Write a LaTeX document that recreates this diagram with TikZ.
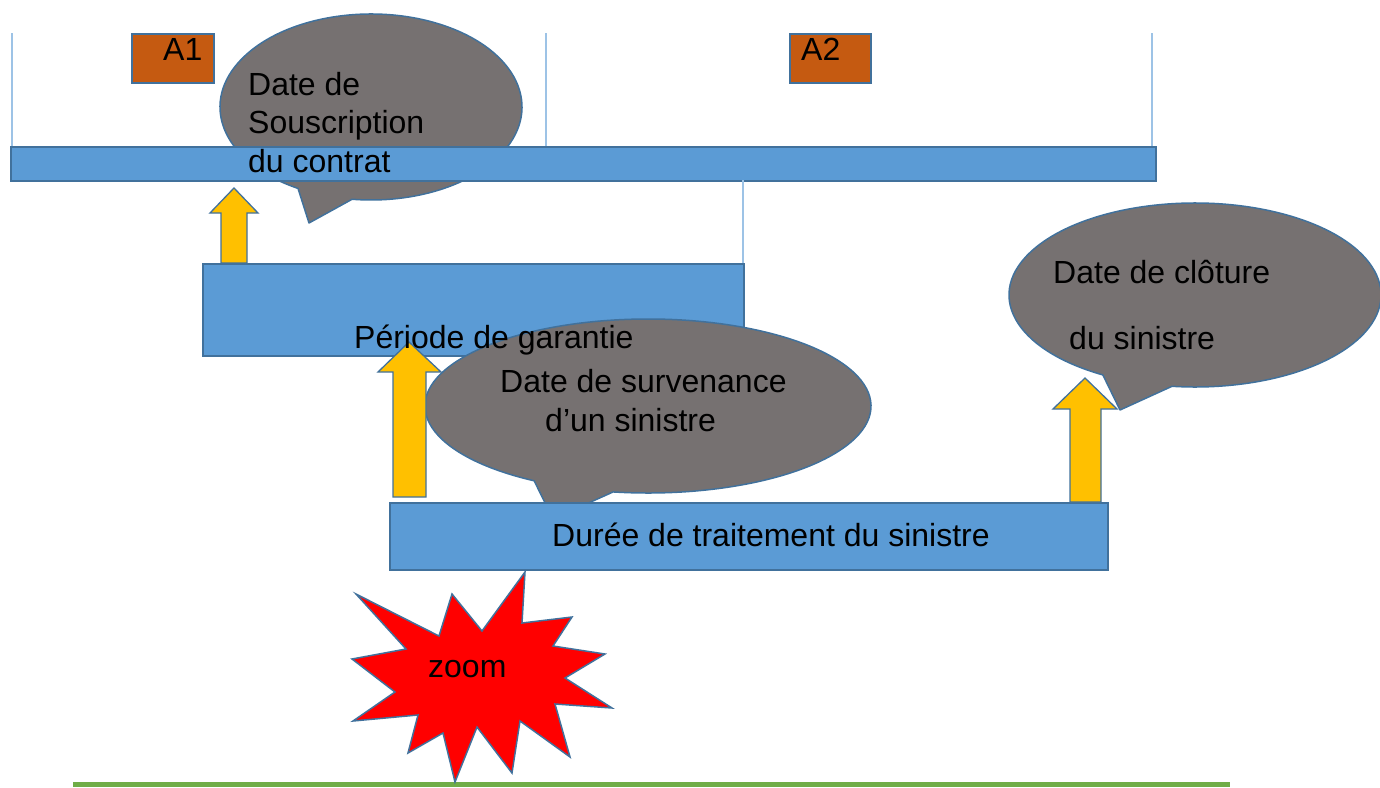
\documentclass[tikz,border=0pt]{standalone}
\usepackage{fontspec}
\setmainfont{Liberation Sans}
\definecolor{barblue}{HTML}{5B9BD5}
\definecolor{edgeblue}{HTML}{41719C}
\definecolor{thinblue}{HTML}{9DC3E6}
\definecolor{calloutgray}{HTML}{767171}
\definecolor{arrowyellow}{HTML}{FFC000}
\definecolor{yearbrown}{HTML}{C55A11}
\definecolor{linegreen}{HTML}{70AD47}
\begin{document}
\begin{tikzpicture}[x=1pt,y=-1pt,
  bar/.style={draw=edgeblue, fill=barblue, line width=1.5pt, rectangle, inner sep=0pt, anchor=north west},
  yearbox/.style={draw=edgeblue, fill=yearbrown, line width=1.5pt, rectangle, inner sep=0pt, anchor=north west},
  callout/.style={draw=edgeblue, fill=calloutgray, line width=1.5pt, line join=round},
  blockarrow/.style={draw=edgeblue, fill=arrowyellow, line width=1.3pt, line join=miter},
  tick/.style={draw=thinblue, line width=1.3pt},
  txt/.style={anchor=base west, inner sep=0pt, font=\fontsize{32}{38}\selectfont, text=black},
  starburst/.style={draw=edgeblue, fill=red, line width=1.5pt, line join=miter}]
\useasboundingbox (0,0) rectangle (1380,787);
\clip (0,0) rectangle (1380,787);
% thin year ticks
\coordinate (t1a) at (12,33);   \coordinate (t1b) at (12,146);
\coordinate (t2a) at (546,33);  \coordinate (t2b) at (546,146);
\coordinate (t3a) at (1152,33); \coordinate (t3b) at (1152,146);
\draw[tick] (t1a) -- (t1b);
\draw[tick] (t2a) -- (t2b);
\draw[tick] (t3a) -- (t3b);
% year boxes
\node[yearbox, minimum width=82pt, minimum height=49pt] (A1) at (131,33) {};
\node[txt] (A1t) at (163,60) {A1};
\node[yearbox, minimum width=81pt, minimum height=49pt] (A2) at (789,33) {};
\node[txt] (A2t) at (801,60) {A2};
% callout: date de souscription
\coordinate (c1) at (371,107);
\coordinate (c1tip) at (309,223);
\draw[callout] (c1) ++(118.9:151 and 93) arc[start angle=118.9, end angle=457.2, x radius=151, y radius=93] -- (c1tip) -- cycle;
% top time bar
\node[bar, minimum width=1145pt, minimum height=34pt] (top) at (10,146) {};
\node[txt] (s1) at (248,95) {Date de};
\node[txt] (s2) at (248,133) {Souscription};
\node[txt] (s3) at (248,172) {du contrat};
% tick under bar
\coordinate (t4a) at (743,180); \coordinate (t4b) at (743,263);
\draw[tick] (t4a) -- (t4b);
% arrow 1
\draw[blockarrow] (221,263) -- (221,213) -- (210,213) -- (234,188) -- (258,213) -- (247,213) -- (247,263) -- cycle;
% garantie box
\node[bar, minimum width=541pt, minimum height=92pt] (gar) at (202,263) {};
% callout: survenance
\coordinate (c2) at (648,406);
\coordinate (c2tip) at (553,519);
\draw[callout] (c2) ++(120.7:223 and 87) arc[start angle=120.7, end angle=459, x radius=223, y radius=87] -- (c2tip) -- cycle;
\node[txt] (v1) at (500,392) {Date de survenance};
\node[txt] (v2) at (545,431) {d’un sinistre};
% arrow 2
\draw[blockarrow] (393,497) -- (393,372) -- (378,372) -- (409,342) -- (441,372) -- (426,372) -- (426,497) -- cycle;
\node[txt] (gart) at (354,348) {Période de garantie};
% traitement box
\node[bar, minimum width=718pt, minimum height=67pt] (dur) at (389,502) {};
\node[txt] (durt) at (552,546) {Durée de traitement du sinistre};
% callout: cloture
\coordinate (c3) at (1195,295);
\coordinate (c3tip) at (1120,410);
\draw[callout] (c3) ++(119.7:186 and 92) arc[start angle=119.7, end angle=457.1, x radius=186, y radius=92] -- (c3tip) -- cycle;
\node[txt] (k1) at (1053,283) {Date de clôture};
\node[txt] (k2) at (1069,349) {du sinistre};
% arrow 3
\draw[blockarrow] (1070,502) -- (1070,409) -- (1053,409) -- (1085,378) -- (1117,409) -- (1101,409) -- (1101,502) -- cycle;
% ground line
\coordinate (g1) at (73,784.5); \coordinate (g2) at (1230,784.5);
\draw[linegreen, line width=5pt] (g1) -- (g2);
% starburst
\draw[starburst] (525,572) -- (522,623) -- (572,617) -- (553,646) -- (605,654) -- (565,678) -- (612,708) -- (555,704) -- (570,757) -- (520,721) -- (512,773) -- (477,727) -- (455,782) -- (443,733) -- (408,753) -- (418,715) -- (353,721) -- (395,692) -- (352,659) -- (406,649) -- (356,594) -- (439,636) -- (452,594) -- (482,631) -- cycle;
\node[txt] (zt) at (428,677) {zoom};
\end{tikzpicture}
\end{document}
